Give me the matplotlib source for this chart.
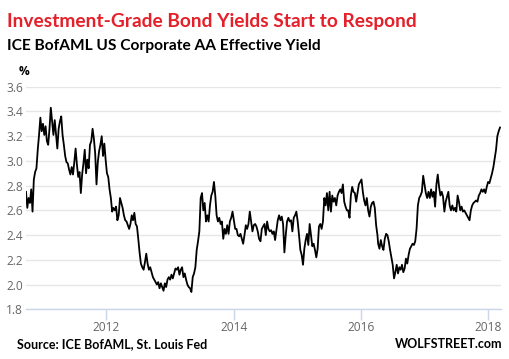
import numpy as np
import pandas as pd
import matplotlib
matplotlib.use("Agg")
import matplotlib.pyplot as plt
import matplotlib.dates as mdates

# weekly readings of the ICE BofAML US Corporate AA effective yield (%), in four stretches
seg_dates = [("2010-09-27", "2012-07-17"), ("2012-07-25", "2014-05-26"),
             ("2014-06-03", "2016-04-04"), ("2016-04-08", "2018-03-08")]

yield_2010_12 = [2.75, 2.62, 2.70, 2.66, 2.77, 2.59, 2.85, 2.91, 2.94, 3.09, 3.21, 3.35, 3.24,
                 3.30, 3.21, 3.28, 3.16, 3.13, 3.26, 3.43, 3.32, 3.21, 3.33, 3.21, 3.10, 3.26,
                 3.32, 3.36, 3.21, 3.13, 3.04, 2.99, 2.98, 2.93, 2.89, 2.95, 2.89, 2.99, 3.10,
                 2.97, 2.87, 2.91, 2.74, 2.89, 2.98, 3.09, 2.90, 3.01, 2.94, 3.13, 3.16, 3.26,
                 3.18, 3.06, 2.81, 2.99, 3.08, 3.13, 3.20, 3.04, 3.14, 3.01, 2.90, 2.87, 2.77,
                 2.70, 2.59, 2.62, 2.60, 2.63, 2.52, 2.56, 2.70, 2.66, 2.62, 2.56, 2.52, 2.51,
                 2.48, 2.45, 2.49, 2.56, 2.52, 2.58, 2.49, 2.47, 2.37, 2.26, 2.17]
yield_2012_14 = [2.14, 2.12, 2.18, 2.25, 2.17, 2.12, 2.14, 2.10, 2.06, 2.04, 2.02, 2.00, 2.02,
                 1.97, 2.01, 1.98, 1.95, 2.01, 1.98, 2.04, 2.06, 2.04, 2.08, 2.05, 2.09, 2.13,
                 2.12, 2.14, 2.08, 2.12, 2.14, 2.06, 2.09, 2.04, 2.00, 1.98, 1.97, 1.94, 2.06,
                 2.09, 2.14, 2.28, 2.35, 2.43, 2.70, 2.74, 2.60, 2.66, 2.51, 2.56, 2.51, 2.64,
                 2.72, 2.75, 2.83, 2.72, 2.56, 2.51, 2.54, 2.49, 2.51, 2.37, 2.45, 2.41, 2.48,
                 2.41, 2.51, 2.54, 2.59, 2.52, 2.45, 2.45, 2.40, 2.39, 2.41, 2.37, 2.33, 2.40,
                 2.48, 2.45, 2.49, 2.59, 2.51, 2.43, 2.48, 2.49, 2.47, 2.43, 2.37]
yield_2014_16 = [2.35, 2.45, 2.47, 2.49, 2.40, 2.51, 2.45, 2.43, 2.44, 2.41, 2.43, 2.36, 2.44,
                 2.52, 2.56, 2.52, 2.55, 2.49, 2.26, 2.40, 2.51, 2.54, 2.51, 2.52, 2.43, 2.54,
                 2.56, 2.59, 2.51, 2.40, 2.28, 2.24, 2.16, 2.29, 2.36, 2.41, 2.32, 2.49, 2.40,
                 2.31, 2.33, 2.28, 2.22, 2.29, 2.47, 2.49, 2.45, 2.51, 2.70, 2.64, 2.74, 2.60,
                 2.75, 2.59, 2.72, 2.67, 2.70, 2.64, 2.72, 2.75, 2.77, 2.74, 2.81, 2.67, 2.63,
                 2.60, 2.60, 2.54, 2.72, 2.79, 2.75, 2.74, 2.67, 2.74, 2.81, 2.83, 2.85, 2.75,
                 2.68, 2.64, 2.70, 2.60, 2.55, 2.63, 2.66, 2.67, 2.62, 2.48, 2.40]
yield_2016_18 = [2.33, 2.29, 2.36, 2.31, 2.28, 2.37, 2.41, 2.40, 2.35, 2.28, 2.22, 2.16, 2.05,
                 2.10, 2.16, 2.09, 2.14, 2.12, 2.16, 2.10, 2.13, 2.21, 2.17, 2.24, 2.29, 2.31,
                 2.33, 2.32, 2.35, 2.45, 2.64, 2.70, 2.72, 2.75, 2.88, 2.81, 2.74, 2.70, 2.75,
                 2.70, 2.77, 2.71, 2.75, 2.63, 2.81, 2.89, 2.79, 2.72, 2.75, 2.71, 2.59, 2.67,
                 2.71, 2.75, 2.64, 2.60, 2.64, 2.60, 2.62, 2.59, 2.72, 2.67, 2.60, 2.63, 2.59,
                 2.60, 2.58, 2.56, 2.54, 2.52, 2.60, 2.64, 2.66, 2.67, 2.68, 2.67, 2.72, 2.74,
                 2.77, 2.75, 2.77, 2.74, 2.79, 2.83, 2.82, 2.86, 2.90, 2.95, 3.02, 3.09, 3.20,
                 3.24, 3.27]

segments = [yield_2010_12, yield_2012_14, yield_2014_16, yield_2016_18]
dates, values = [], []
for (d0, d1), seg in zip(seg_dates, segments):
    dates.extend(pd.date_range(d0, d1, periods=len(seg)))
    values.extend(seg)
series = pd.Series(values, index=pd.DatetimeIndex(dates))

year_ticks = ["2012", "2014", "2016", "2018"]
y_ticks = [1.8, 2.0, 2.2, 2.4, 2.6, 2.8, 3.0, 3.2, 3.4, 3.6]

W, H = 509, 359
fig = plt.figure(figsize=(W / 100, H / 100), dpi=100)
ax = fig.add_axes([26 / W, 1 - 309.3 / H, 474.7 / W, 222.6 / H])

ax.plot(series.index, series.values, color="black", lw=1.3)

ax.set_ylim(1.8, 3.6)
ax.set_xlim(pd.Timestamp("2010-09-27"), pd.Timestamp("2018-03-12"))
ax.set_yticks(y_ticks)
ax.set_yticklabels([f"{v:.1f}" for v in y_ticks])
ax.set_xticks([pd.Timestamp(y + "-01-01") for y in year_ticks])
ax.set_xticklabels(year_ticks)

ax.grid(axis="y", color="#e6e6e6", lw=1)
ax.set_axisbelow(True)
for side in ["top", "right", "left"]:
    ax.spines[side].set_visible(False)
ax.spines["bottom"].set_color("#ccd6eb")
ax.spines["bottom"].set_linewidth(1)
ax.tick_params(axis="y", length=0, pad=2, labelsize=8.6, labelcolor="#666666")
ax.tick_params(axis="x", length=7.7, width=1, color="#ccd6eb", pad=1,
               labelsize=8.6, labelcolor="#666666")
for lab in ax.get_xticklabels() + ax.get_yticklabels():
    lab.set_family("Open Sans")

fig.text(7 / W, 1 - 27 / H, "Investment-Grade Bond Yields Start to Respond",
         color="#e4202a", fontsize=13.8, fontweight="bold", family="Lato", va="baseline")
fig.text(7 / W, 1 - 50 / H, "ICE BofAML US Corporate AA Effective Yield",
         color="black", fontsize=11.2, fontweight="bold", family="Lato", va="baseline")
fig.text(24 / W, 1 - 75 / H, "%", fontsize=8.6, fontweight="bold", family="Open Sans",
         ha="center", va="baseline")
fig.text(17 / W, 1 - 348 / H, "Source: ICE BofAML, St. Louis Fed",
         fontsize=9.0, fontweight="bold", family="Lato", va="baseline")
fig.text(502 / W, 1 - 348 / H, "WOLFSTREET.com",
         fontsize=9.0, fontweight="bold", family="Lato", ha="right", va="baseline")

fig.savefig("out.png", dpi=100)
